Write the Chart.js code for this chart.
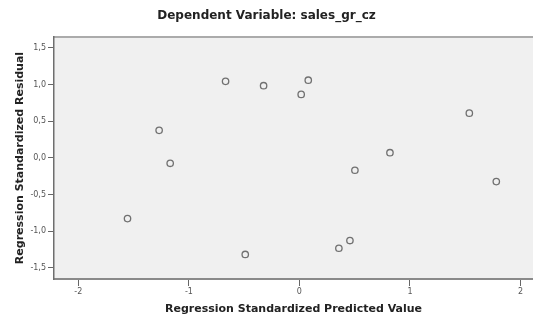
<!DOCTYPE html>
<html>
<head>
<meta charset="utf-8">
<script src="https://cdn.jsdelivr.net/npm/chart.js@4/dist/chart.umd.min.js"></script>
<style>
html,body{margin:0;padding:0;background:#fff;}
#wrap{width:533px;height:320px;}
</style>
</head>
<body>
<div id="wrap"><canvas id="c" width="533" height="320"></canvas></div>
<script>
const chartTitle = 'Dependent Variable: sales_gr_cz';
const xTitle = 'Regression Standardized Predicted Value';
const yTitle = 'Regression Standardized Residual';
const predicted = [-1.555, -1.269, -1.169, -0.668, -0.49, -0.324, 0.016, 0.08, 0.357, 0.457, 0.502, 0.819, 1.537, 1.781];
const residual  = [-0.83, 0.375, -0.075, 1.044, -1.32, 0.985, 0.866, 1.06, -1.235, -1.13, -0.17, 0.07, 0.61, -0.325];
const xTickValues = [-2, -1, 0, 1, 2];
const xTickLabels = ['-2', '-1', '0', '1', '2'];
const yTickValues = [-1.5, -1.0, -0.5, 0.0, 0.5, 1.0, 1.5];
const yTickLabels = ['-1,5', '-1,0', '-0,5', '0,0', '0,5', '1,0', '1,5'];

const plotBg = {
  id: 'plotBg',
  beforeDraw(chart) {
    const {ctx, chartArea: a} = chart;
    ctx.save();
    ctx.fillStyle = '#f0f0f0';
    ctx.fillRect(a.left, a.top, a.right - a.left, a.bottom - a.top);
    ctx.strokeStyle = '#ababab';
    ctx.lineWidth = 2;
    ctx.beginPath();
    ctx.moveTo(a.left, a.top);
    ctx.lineTo(a.right, a.top);
    ctx.stroke();
    ctx.restore();
  }
};

new Chart(document.getElementById('c'), {
  type: 'scatter',
  data: {
    datasets: [{
      data: predicted.map((x, i) => ({x: x, y: residual[i]})),
      pointRadius: 3.2,
      pointHoverRadius: 3.2,
      borderColor: '#707070',
      backgroundColor: 'rgba(0,0,0,0)',
      borderWidth: 1.3
    }]
  },
  options: {
    responsive: false,
    animation: false,
    devicePixelRatio: 1,
    layout: {autoPadding: false, padding: {left: 0, right: 0, top: 0, bottom: 0}},
    plugins: {
      legend: {display: false},
      tooltip: {enabled: false},
      title: {
        display: true,
        text: chartTitle,
        color: '#222',
        font: {family: 'DejaVu Sans', size: 12, weight: 'bold'},
        padding: {top: 8.8, bottom: 13.8}
      }
    },
    scales: {
      x: {
        type: 'linear',
        min: -2.22,
        max: 2.113,
        afterBuildTicks: s => { s.ticks = xTickValues.map(v => ({value: v})); },
        afterFit: s => { s.height = 41; s.paddingLeft = 0; s.paddingRight = 0; },
        ticks: {
          callback: (v, i) => xTickLabels[i],
          color: '#555',
          font: {family: 'DejaVu Sans', size: 8},
          padding: 1,
          maxRotation: 0
        },
        grid: {display: true, drawOnChartArea: false, drawTicks: true, tickLength: 7, color: '#666', tickWidth: 1},
        border: {display: true, color: '#8a8a8a', width: 2},
        title: {
          display: true,
          text: xTitle,
          color: '#222',
          font: {family: 'DejaVu Sans', size: 11, weight: 'bold'},
          padding: {top: 0, bottom: 4.4}
        }
      },
      y: {
        type: 'linear',
        min: -1.655,
        max: 1.65,
        afterBuildTicks: s => { s.ticks = yTickValues.map(v => ({value: v})); },
        afterFit: s => { s.width = 54; s.paddingTop = 0; s.paddingBottom = 0; },
        ticks: {
          callback: (v, i) => yTickLabels[i],
          color: '#555',
          font: {family: 'DejaVu Sans', size: 8},
          padding: 2
        },
        grid: {display: true, drawOnChartArea: false, drawTicks: true, tickLength: 6, color: '#666', tickWidth: 1},
        border: {display: true, color: '#6e6e6e', width: 1.5},
        title: {
          display: true,
          text: yTitle,
          color: '#222',
          font: {family: 'DejaVu Sans', size: 11, weight: 'bold'},
          padding: {top: 13.4, bottom: 0}
        }
      }
    }
  },
  plugins: [plotBg]
});
</script>
</body>
</html>
